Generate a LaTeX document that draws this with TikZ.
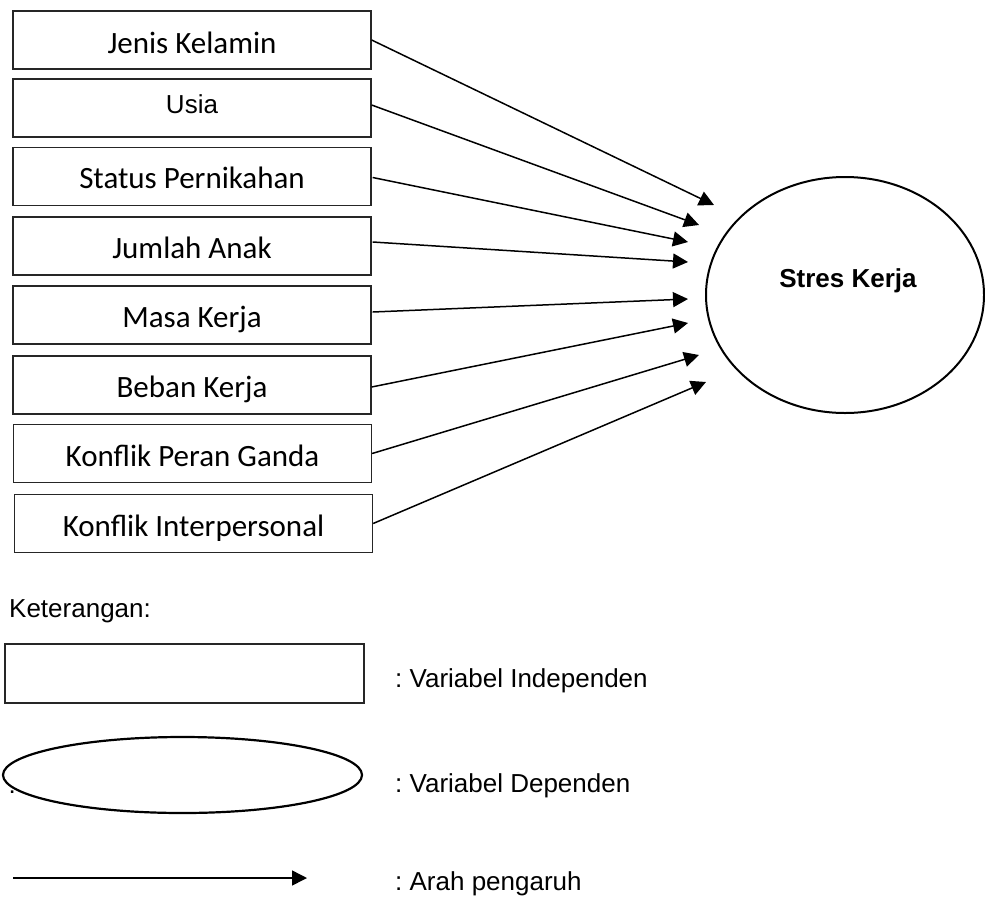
\documentclass[tikz,border=0pt]{standalone}
\usepackage{fontspec}
\setmainfont{Liberation Sans}
\newfontfamily\carl{Carlito}
\usetikzlibrary{arrows.meta,shapes.geometric}
\frenchspacing
\begin{document}
\begin{tikzpicture}[x=1pt,y=-1pt,
  varbox/.style={draw=black!85,line width=1.3pt,rectangle,inner sep=0pt,minimum width=358pt,minimum height=58pt},
  boxtext/.style={inner sep=0pt,anchor=base,font=\carl\fontsize{31}{31}\selectfont},
  arialtext/.style={inner sep=0pt,font=\fontsize{26}{26}\selectfont},
  conn/.style={line width=1.5pt,-{Triangle[length=15pt,width=15pt]}},
]
\useasboundingbox (0,0) rectangle (985,905);
\fill[white] (0,0) rectangle (985,905);

% independent variable boxes
\node[varbox] (b1) at (192,40) {};
\node[varbox] (b2) at (192,108) {};
\node[varbox] (b3) at (192,176.5) {};
\node[varbox] (b4) at (192,246) {};
\node[varbox] (b5) at (192,315) {};
\node[varbox] (b6) at (192,385) {};
\node[varbox] (b7) at (192.5,453.5) {};
\node[varbox] (b8) at (193.5,523.5) {};

\node[boxtext] (t1) at (192,53) {Jenis Kelamin};
\node[arialtext,anchor=base] (t2) at (192,113) {Usia};
\node[boxtext] (t3) at (192,188) {Status Pernikahan};
\node[boxtext] (t4) at (192,258) {Jumlah Anak};
\node[boxtext] (t5) at (192,327) {Masa Kerja};
\node[boxtext] (t6) at (192,397) {Beban Kerja};
\node[boxtext] (t7) at (192.5,466) {Konflik Peran Ganda};
\node[boxtext] (t8) at (193.5,536) {Konflik Interpersonal};

% dependent variable
\node[draw,ellipse,line width=2pt,inner sep=0pt,minimum width=278pt,minimum height=236pt] (se) at (845,295) {};
\node[arialtext,anchor=base,font=\bfseries\fontsize{26}{26}\selectfont] (st) at (848,287) {Stres Kerja};

% arrow tips
\coordinate (e1) at (714,205);
\coordinate (e2) at (699,225);
\coordinate (e3) at (688,242);
\coordinate (e4) at (688,262);
\coordinate (e5) at (688,299);
\coordinate (e6) at (688,323);
\coordinate (e7) at (699,355);
\coordinate (e8) at (706,382);

\draw[conn] (b1.east) -- (e1);
\draw[conn] ([yshift=3pt]b2.east) -- (e2);
\draw[conn] ([xshift=1pt,yshift=-1pt]b3.east) -- (e3);
\draw[conn] ([xshift=1pt,yshift=4pt]b4.east) -- (e4);
\draw[conn] ([xshift=1pt,yshift=3pt]b5.east) -- (e5);
\draw[conn] ([yshift=-2pt]b6.east) -- (e6);
\draw[conn] (b7.east) -- (e7);
\draw[conn] (b8.east) -- (e8);

% legend
\node[arialtext,anchor=base west] (ket) at (9,617) {Keterangan:};
\node[draw=black!85,line width=1.3pt,rectangle,inner sep=0pt,minimum width=359pt,minimum height=59pt] (lr) at (184.5,673.5) {};
\node[arialtext,anchor=base west] (lt1) at (395,687) {: Variabel Independen};
\node[arialtext,anchor=base west] (lcol) at (8.5,793) {:};
\node[draw,ellipse,fill=white,line width=2.2pt,inner sep=0pt,minimum width=359pt,minimum height=76pt] (le) at (182.5,775) {};
\node[arialtext,anchor=base west] (lt2) at (395,792) {: Variabel Dependen};
\coordinate (la) at (13,878);
\coordinate (lb) at (307,878);
\draw[conn] (la) -- (lb);
\node[arialtext,anchor=base west] (lt3) at (395,890) {: Arah pengaruh};
\end{tikzpicture}
\end{document}
